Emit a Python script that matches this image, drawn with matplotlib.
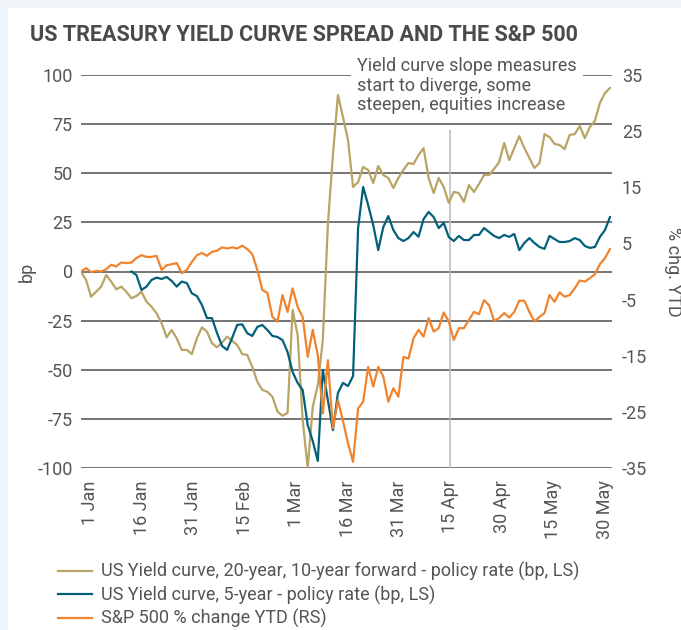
import numpy as np
import matplotlib
matplotlib.use("Agg")
import matplotlib.pyplot as plt
from matplotlib.patches import Rectangle

plt.rcParams["font.family"] = ["Roboto", "DejaVu Sans"]
plt.rcParams["axes.unicode_minus"] = False

# x axis is a trading-day index (31 Dec 2019 .. 1 Jun 2020)
tick_labels = ["1 Jan", "16 Jan", "31 Jan", "15 Feb", "1 Mar", "16 Mar",
               "31 Mar", "15 Apr", "30 Apr", "15 May", "30 May"]

# US yield curve, 20y10y forward - policy rate (bp)
curve_20y10y = [
    0, -4.3, -12.8, -10.3, -7.7, -1.8, -5.2, -9.1, -7.7, -10.3,
    -13.6, -12.5, -10.3, -15.4, -17.9, -21.3, -26.4, -33.5, -29.8, -34.0,
    -39.9, -39.9, -42.0, -34.0, -28.4, -30.6, -36.5, -38.6, -36.2, -33.2,
    -35.2, -37.4, -42.0, -42.5, -48.5, -56.1, -60.3, -61.2, -63.8, -71.3,
    -73.4, -72.0, -19.6, -32.3, -75.6, -100.0, -68.9, -57.8, -34.9, 23.7,
    59.3, 89.8, 78.6, 66.9, 43.0, 45.5, 53.2, 51.7, 45.0, 53.7,
    49.1, 47.6, 42.5, 47.6, 51.7, 55.2, 54.7, 59.3, 62.8, 47.6,
    39.9, 47.6, 43.0, 34.9, 40.5, 39.9, 35.4, 44.0, 40.5, 44.5,
    49.1, 49.1, 52.2, 55.7, 65.4, 56.7, 62.8, 68.9, 62.8, 57.8,
    52.7, 55.2, 69.9, 68.4, 64.9, 64.4, 62.3, 69.5, 69.9, 74.0,
    67.9, 73.5, 76.6, 85.8, 90.8, 93.4,
]

# US yield curve, 5y - policy rate (bp), series starts mid January
curve_5y = [np.nan] * 10 + [
    0, -1.8, -9.4, -7.7, -4.3, -3.1, -3.8, -2.8, -4.8, -7.7,
    -5.1, -5.9, -11.1, -12.5, -17.0, -23.7, -23.7, -31.3, -37.9, -39.9,
    -33.8, -27.2, -26.9, -31.4, -32.8, -28.2, -27.2, -29.8, -32.8, -33.3,
    -34.9, -41.0, -51.1, -56.7, -60.3, -78.1, -86.3, -96.4, -50.1, -65.4,
    -80.7, -61.8, -56.7, -58.3, -53.2, 22.1, 43.0, 33.8, 23.7, 10.9,
    22.6, 28.2, 21.1, 17.0, 15.5, 17.0, 20.1, 17.7, 26.7, 30.3,
    27.7, 22.1, 24.7, 17.5, 15.5, 18.1, 16.0, 16.0, 18.6, 18.6,
    22.1, 20.1, 18.1, 17.0, 18.6, 17.6, 19.1, 10.9, 14.5, 17.0,
    14.5, 12.5, 11.5, 18.1, 16.5, 15.0, 15.0, 15.5, 17.0, 16.0,
    13.0, 12.0, 12.5, 17.6, 21.1, 27.7,
]

# S&P 500 % change YTD
spx_ytd = [
    0, 0.6, -0.1, 0.1, 0, 0.4, 1.2, 0.9, 1.6, 1.5,
    1.6, 2.4, 2.9, 2.6, 2.6, 2.8, 0.3, 1.1, 1.3, 1.5,
    -0.3, 0.3, 1.7, 2.9, 3.3, 2.8, 3.5, 3.7, 4.3, 4.1,
    4.3, 4.1, 4.6, 4.0, 3.1, 0.3, -3.3, -3.8, -8.1, -8.9,
    -4.2, -7.2, -3.0, -6.3, -8.1, -15.2, -10.4, -14.9, -25.3, -15.8,
    -27.9, -22.9, -26.6, -30.6, -33.9, -24.4, -23.2, -17.0, -20.5, -17.0,
    -18.7, -23.2, -20.8, -22.3, -15.2, -15.5, -11.9, -10.4, -11.6, -8.3,
    -10.7, -10.1, -7.3, -8.9, -12.2, -10.1, -10.1, -8.6, -7.2, -7.6,
    -5.1, -6.0, -8.8, -8.3, -7.4, -8.2, -7.2, -5.2, -5.2, -7.2,
    -8.9, -8.1, -7.4, -4.2, -5.4, -3.7, -4.5, -4.2, -3.0, -1.6,
    -1.8, -1.2, -0.5, 1.3, 2.4, 4.0,
]

GOLD = "#b8a464"
TEAL = "#03607a"
ORANGE = "#f0832d"
TEXT = "#555555"
GRID = "#5e5e5e"
FS = 13

W, H = 681, 630
fig = plt.figure(figsize=(W / 100, H / 100), dpi=100)
fig.patch.set_facecolor("#eef4f8")
fig.patches.append(Rectangle((8 / W, 0), 1, 1 - 8 / H, transform=fig.transFigure,
                             facecolor="white", edgecolor="none", zorder=-5))

ax = fig.add_axes([81 / W, 1 - 468 / H, (612 - 81) / W, (468 - 75) / H])
ax.set_facecolor("none")
x = np.arange(len(spx_ytd))

ax.set_xlim(0, 105.4)
ax.set_ylim(-100, 100)
ax.set_yticks(range(-100, 101, 25))
ax.grid(axis="y", color=GRID, lw=1.2, zorder=0)
ax.set_axisbelow(True)
for s in ax.spines.values():
    s.set_visible(False)

tick_pos = np.linspace(1.8, 104.0, len(tick_labels))
ax.set_xticks(tick_pos)
ax.set_xticklabels(tick_labels, rotation=90)
ax.tick_params(axis="x", length=0, pad=9, labelsize=FS, labelcolor=TEXT)
ax.tick_params(axis="y", length=0, pad=6, labelsize=FS, labelcolor=TEXT)

# marker for mid April
ax.vlines(tick_pos[7], -100, 72, color="#b9b9b9", lw=1.1, zorder=1)

l1, = ax.plot(x, curve_20y10y, color=GOLD, lw=1.6, zorder=3,
              label="US Yield curve, 20-year, 10-year forward - policy rate (bp, LS)")
l2, = ax.plot(x, curve_5y, color=TEAL, lw=1.6, zorder=3,
              label="US Yield curve, 5-year - policy rate (bp, LS)")

ax.text(0.52, 1.045, "Yield curve slope measures\nstart to diverge, some\nsteepen, equities increase",
        transform=ax.transAxes, ha="left", va="top", fontsize=FS, color=TEXT,
        linespacing=1.1, zorder=5,
        bbox=dict(boxstyle="square,pad=0.35", facecolor="white", edgecolor="none"))

ax.set_ylabel("bp", fontsize=FS, color=TEXT)
ax.yaxis.set_label_coords((36 - 81) / (612 - 81), 0.5)

ax2 = ax.twinx()
ax2.set_ylim(-35, 35)
ax2.set_yticks(range(-35, 36, 10))
for s in ax2.spines.values():
    s.set_visible(False)
ax2.tick_params(axis="y", length=0, pad=7, labelsize=FS, labelcolor=TEXT)
l3, = ax2.plot(x, spx_ytd, color=ORANGE, lw=1.6, zorder=3,
               label="S&P 500 % change YTD (RS)")
ax2.set_ylabel("% chg. YTD", fontsize=FS, color=TEXT, rotation=270, va="center")
ax2.yaxis.set_label_coords((673 - 81) / (612 - 81), 0.5)

fig.text(30 / W, 1 - 35 / H, "US TREASURY YIELD CURVE SPREAD AND THE S&P 500",
         fontsize=15.5, fontweight="bold", color="#4a4a4a", va="center", ha="left")

fig.legend(handles=[l1, l2, l3], loc="upper left",
           bbox_to_anchor=(58 / W, 1 - 562 / H), frameon=False,
           fontsize=FS, labelcolor=TEXT, handlelength=1.9, handletextpad=0.5,
           labelspacing=0.24, borderpad=0, borderaxespad=0)

fig.savefig("out.png", dpi=100, facecolor=fig.get_facecolor())
